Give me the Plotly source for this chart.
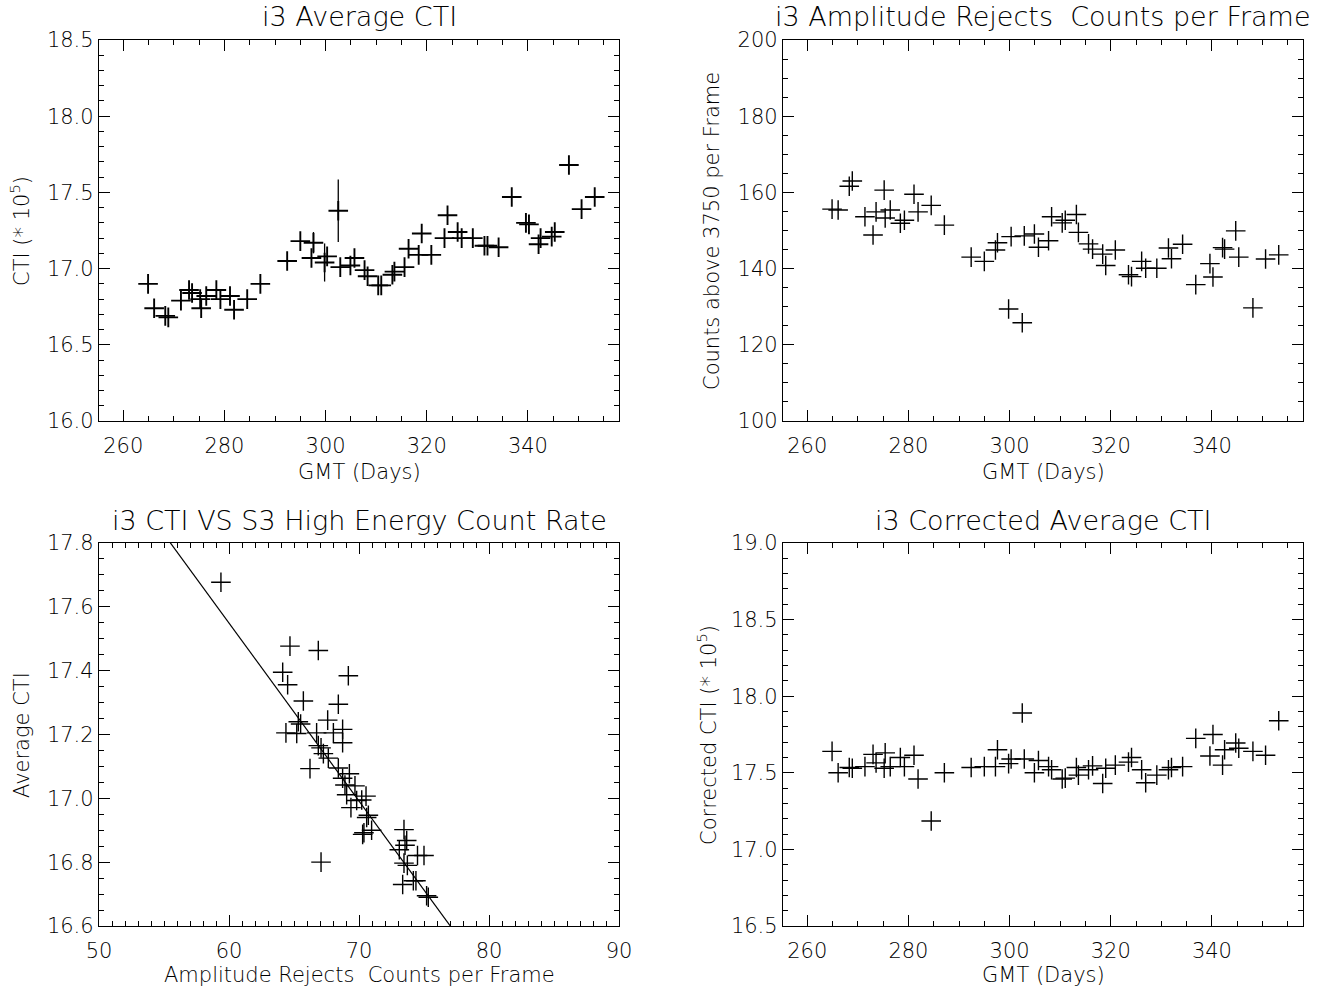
import plotly.graph_objects as go

# ---------------- data ----------------
days = [264.9, 266.1, 268.3, 268.9, 271.4, 273.0, 273.6, 275.2, 275.4, 276.4,
        278.4, 279.2, 281.1, 281.9, 284.5, 287.1, 292.4, 295.0, 297.2, 297.6,
        299.8, 300.3, 302.5, 302.9, 304.9, 305.7, 307.7, 308.3, 310.4, 311.0,
        313.2, 313.6, 315.6, 316.4, 318.4, 319.0, 320.9, 323.5, 324.1, 326.1,
        326.9, 329.1, 331.4, 332.0, 334.2, 336.8, 339.6, 340.2, 342.1, 342.5,
        344.7, 345.3, 348.1, 350.6, 353.2]

avg_cti = [16.90, 16.74, 16.69, 16.68, 16.79, 16.86, 16.84, 16.80, 16.74, 16.82,
           16.86, 16.80, 16.82, 16.73, 16.80, 16.90, 17.05, 17.18, 17.07, 17.17,
           17.04, 17.08, 17.38, 17.01, 17.02, 17.07, 16.99, 16.95, 16.89, 16.89,
           16.96, 16.98, 17.01, 17.13, 17.09, 17.23, 17.09, 17.20, 17.35, 17.24,
           17.20, 17.20, 17.15, 17.15, 17.14, 17.47, 17.30, 17.29, 17.16, 17.20,
           17.21, 17.24, 17.68, 17.39, 17.47]

avg_cti_err = [0, 0, 0, 0, 0, 0, 0, 0, 0, 0,
               0, 0, 0, 0, 0, 0, 0, 0, 0, 0.07,
               0.125, 0, 0.205, 0, 0, 0, 0, 0, 0, 0,
               0, 0, 0, 0, 0, 0, 0, 0, 0, 0,
               0, 0, 0, 0, 0, 0, 0, 0, 0, 0,
               0, 0, 0, 0, 0]

rejects_per_frame = [155.6, 155.4, 161.6, 163.0, 153.6, 148.8, 154.9, 160.6, 153.3, 155.4,
                     151.9, 152.7, 159.5, 154.9, 156.6, 151.4, 143.0, 141.9, 144.9, 146.8,
                     129.4, 148.4, 125.8, 148.6, 149.1, 145.6, 147.3, 153.6, 152.0, 152.7,
                     154.2, 149.5, 146.5, 145.1, 143.8, 140.8, 144.9, 138.4, 137.9, 141.9,
                     140.1, 140.1, 145.4, 142.6, 146.4, 135.8, 141.3, 137.8, 145.5, 145.1,
                     149.9, 143.0, 129.7, 142.5, 143.6]

corrected_cti = [17.64, 17.50, 17.535, 17.53, 17.54, 17.62, 17.565, 17.53, 17.63, 17.54,
                 17.60, 17.54, 17.615, 17.46, 17.185, 17.50, 17.535, 17.54, 17.54, 17.65,
                 17.56, 17.59, 17.89, 17.59, 17.50, 17.58, 17.54, 17.52, 17.46, 17.465,
                 17.535, 17.485, 17.52, 17.545, 17.43, 17.53, 17.55, 17.57, 17.60, 17.52,
                 17.435, 17.485, 17.52, 17.535, 17.54, 17.725, 17.61, 17.75, 17.55, 17.65,
                 17.695, 17.66, 17.64, 17.615, 17.84]

scatter_rejects = [59.38, 64.69, 66.87, 64.13, 69.18, 64.51, 65.72, 68.41, 65.33, 65.51,
                   67.59, 64.38, 65.21, 66.74, 68.03, 68.74, 68.74, 66.87, 67.08, 67.26,
                   67.64, 66.23, 68.41, 69.26, 68.74, 69.69, 68.92, 69.05, 70.54, 69.82,
                   69.38, 70.21, 70.72, 70.59, 70.38, 70.97, 70.28, 73.46, 73.67, 73.54,
                   73.10, 74.50, 75.00, 67.08, 73.46, 73.72, 74.18, 74.38, 73.36, 75.20,
                   75.33]

scatter_cti = [17.677, 17.477, 17.463, 17.395, 17.384, 17.356, 17.305, 17.295, 17.240, 17.233,
               17.245, 17.205, 17.203, 17.205, 17.205, 17.216, 17.174, 17.165, 17.158, 17.140,
               17.126, 17.093, 17.095, 17.077, 17.063, 17.039, 17.042, 17.011, 17.007, 16.993,
               16.971, 16.995, 16.947, 16.940, 16.892, 16.900, 16.887, 16.902, 16.868, 16.853,
               16.839, 16.821, 16.821, 16.800, 16.797, 16.790, 16.742, 16.742, 16.730, 16.695,
               16.690]

fit_intercept = 20.894
fit_slope = -0.05575
fit_x = [50, 90]

titles = ["i3 Average CTI", "i3 Amplitude Rejects\u00a0 Counts per Frame",
          "i3 CTI VS S3 High Energy Count Rate", "i3 Corrected Average CTI"]
xtitles = ["GMT (Days)", "GMT (Days)", "Amplitude Rejects\u00a0 Counts per Frame", "GMT (Days)"]
ytitles = ["CTI (* 10<sup>5</sup>)", "Counts above 3750 per Frame", "Average CTI",
           "Corrected CTI (* 10<sup>5</sup>)"]

# ---------------- layout geometry ----------------
W, H = 1317, 994
FONT = "DejaVu Sans"
px = lambda v: v / W
py = lambda v: 1 - v / H

left_dom = [px(99), px(619)]
right_dom = [px(783), px(1303)]
top_dom = [py(421), py(40)]
bot_dom = [py(926), py(543)]

def mk(width):
    return dict(symbol="cross-thin", size=14, color="black",
                line=dict(width=width, color="black"))

fig = go.Figure()

fig.add_trace(go.Scatter(x=days, y=avg_cti, mode="markers", marker=mk(1.9),
                         error_y=dict(type="data", array=avg_cti_err, visible=True,
                                      thickness=1.3, width=0, color="black"),
                         xaxis="x", yaxis="y", showlegend=False))
fig.add_trace(go.Scatter(x=days, y=rejects_per_frame, mode="markers", marker=mk(1.4),
                         xaxis="x2", yaxis="y2", showlegend=False))
fig.add_trace(go.Scatter(x=scatter_rejects, y=scatter_cti, mode="markers", marker=mk(1.4),
                         xaxis="x3", yaxis="y3", showlegend=False))
fig.add_trace(go.Scatter(x=fit_x, y=[fit_intercept + fit_slope * v for v in fit_x],
                         mode="lines", line=dict(color="black", width=1.2),
                         xaxis="x3", yaxis="y3", showlegend=False))
fig.add_trace(go.Scatter(x=days, y=corrected_cti, mode="markers", marker=mk(1.4),
                         xaxis="x4", yaxis="y4", showlegend=False))


def ax(domain, rng, tick0, dtick, mdtick, anchor, fmt=None, is_x=True):
    d = dict(domain=domain, range=rng, anchor=anchor, tick0=tick0, dtick=dtick,
             showline=True, linecolor="black", linewidth=1.3, mirror="ticks",
             ticks="inside", ticklen=11, tickwidth=1, tickcolor="black",
             showgrid=False, zeroline=False, automargin=False,
             ticklabelstandoff=6 if is_x else 0,
             tickfont=dict(family=FONT, size=21, color="black", weight=300),
             minor=dict(ticks="inside", ticklen=5, tickwidth=1, tickcolor="black",
                        dtick=mdtick, tick0=tick0, showgrid=False),
             fixedrange=True)
    if fmt:
        d["tickformat"] = fmt
    return d


fig.update_layout(
    width=W, height=H, autosize=False,
    margin=dict(l=0, r=0, t=0, b=0, pad=0, autoexpand=False),
    paper_bgcolor="white", plot_bgcolor="white",
    xaxis=ax(left_dom, [255.2, 358], 260, 20, 5, "y"),
    yaxis=ax(top_dom, [16.0, 18.5], 16.0, 0.5, 0.1, "x", ".1f", False),
    xaxis2=ax(right_dom, [255.2, 358], 260, 20, 5, "y2"),
    yaxis2=ax(top_dom, [100, 200], 100, 20, 5, "x2", None, False),
    xaxis3=ax(left_dom, [50, 90], 50, 10, 1, "y3"),
    yaxis3=ax(bot_dom, [16.6, 17.8], 16.6, 0.2, 0.05, "x3", ".1f", False),
    xaxis4=ax(right_dom, [255.2, 358], 260, 20, 5, "y4"),
    yaxis4=ax(bot_dom, [16.5, 19.0], 16.5, 0.5, 0.1, "x4", ".1f", False),
)

ann = []
centers_x = [(99 + 619) / 2, (783 + 1303) / 2, (99 + 619) / 2, (783 + 1303) / 2]
title_y = [17, 17, 520, 520]
xtitle_y = [472, 472, 975, 975]
ytitle_x = [20, 712, 22, 707]
ytitle_y = [231, 231, 735, 735]
for i in range(4):
    ann.append(dict(text=titles[i], x=px(centers_x[i]), y=py(title_y[i]), xref="paper",
                    yref="paper", showarrow=False, xanchor="center", yanchor="middle",
                    font=dict(family=FONT, size=27, color="black", weight=300)))
    ann.append(dict(text=xtitles[i], x=px(centers_x[i]), y=py(xtitle_y[i]), xref="paper",
                    yref="paper", showarrow=False, xanchor="center", yanchor="middle",
                    font=dict(family=FONT, size=21, color="black", weight=300)))
    ann.append(dict(text=ytitles[i], x=px(ytitle_x[i]), y=py(ytitle_y[i]), xref="paper",
                    yref="paper", showarrow=False, xanchor="center", yanchor="middle",
                    textangle=-90, font=dict(family=FONT, size=21, color="black", weight=300)))
fig.update_layout(annotations=ann)

fig.write_html("out.html", config={"displayModeBar": False},
               post_script="document.body.style.margin='0px';document.body.style.overflow='hidden';")
